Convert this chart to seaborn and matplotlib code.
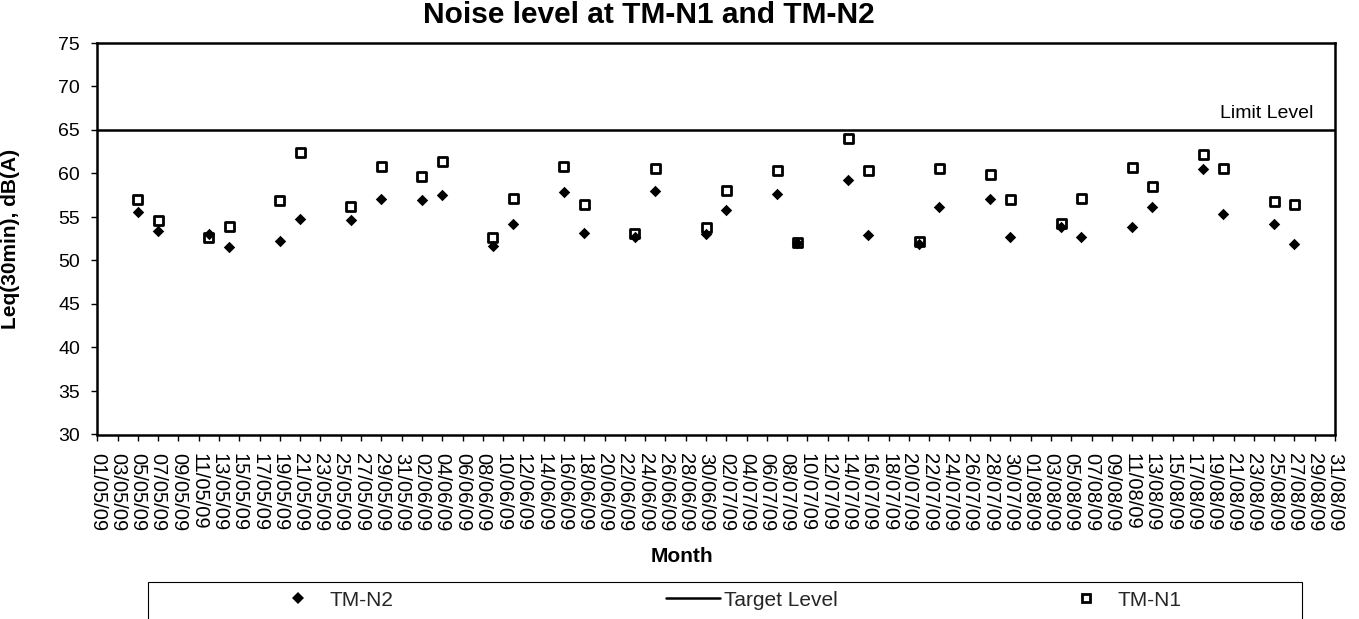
import numpy as np
import pandas as pd
import matplotlib
matplotlib.use('Agg')
import matplotlib.pyplot as plt
import matplotlib.dates as mdates
from matplotlib.lines import Line2D
from matplotlib.patches import Rectangle
import seaborn as sns

# ---------------- data ----------------
dates = ['05/05/09', '07/05/09', '12/05/09', '14/05/09', '19/05/09', '21/05/09',
         '26/05/09', '29/05/09', '02/06/09', '04/06/09', '09/06/09', '11/06/09',
         '16/06/09', '18/06/09', '23/06/09', '25/06/09', '30/06/09', '02/07/09',
         '07/07/09', '09/07/09', '14/07/09', '16/07/09', '21/07/09', '23/07/09',
         '28/07/09', '30/07/09', '04/08/09', '06/08/09', '11/08/09', '13/08/09',
         '18/08/09', '20/08/09', '25/08/09', '27/08/09']
tm_n1 = [57.0, 54.6, 52.7, 53.9, 56.9, 62.4, 56.2, 60.8, 59.6, 61.4, 52.7, 57.15,
         60.8, 56.4, 53.1, 60.6, 53.8, 58.1, 60.3, 52.1, 64.0, 60.4, 52.2, 60.6,
         59.9, 57.0, 54.3, 57.15, 60.7, 58.5, 62.2, 60.55, 56.8, 56.4]
tm_n2 = [55.6, 53.4, 53.1, 51.6, 52.2, 54.8, 54.6, 57.1, 57.0, 57.5, 51.7, 54.2,
         57.9, 53.2, 52.7, 58.0, 53.1, 55.8, 57.6, 52.0, 59.2, 52.9, 51.9, 56.2,
         57.1, 52.7, 53.9, 52.7, 53.9, 56.1, 60.55, 55.4, 54.2, 51.9]
target_level = 65
x_start, x_end = '2009-05-01', '2009-08-31'
tick_every_days = 2
y_ticks = [30, 35, 40, 45, 50, 55, 60, 65, 70, 75]
title = 'Noise level at TM-N1 and TM-N2'
x_label = 'Month'
y_label = 'Leq(30min), dB(A)'
limit_label = 'Limit Level'
legend_labels = ['TM-N2', 'Target Level', 'TM-N1']

# ---------------- style ----------------
sns.set_theme(style='ticks')
plt.rcParams['font.family'] = ['Liberation Sans', 'DejaVu Sans']

W, H = 1359, 619
fig = plt.figure(figsize=(W / 100, H / 100), dpi=100)
L, R, T, B = 97.3, 1335, 43, 434.5
ax = fig.add_axes([L / W, 1 - B / H, (R - L) / W, (B - T) / H])

df = pd.DataFrame({'date': pd.to_datetime(dates, format='%d/%m/%y'),
                   'TM-N1': tm_n1, 'TM-N2': tm_n2})

diamond_s = 34
square_s = 42
sns.scatterplot(data=df, x='date', y='TM-N2', marker='D', s=diamond_s, color='black',
                linewidth=0, ax=ax, zorder=3)
sns.scatterplot(data=df, x='date', y='TM-N1', marker='s', s=square_s, color='black',
                ax=ax, zorder=4)
coll = ax.collections[-1]
coll.set_facecolor('none')
coll.set_edgecolor('black')
coll.set_linewidth(2.0)

ax.axhline(target_level, color='black', lw=1.8, zorder=2)

# axes
tick_dates = pd.date_range(x_start, x_end, freq=f'{tick_every_days}D')
ax.set_xlim(pd.Timestamp(x_start), pd.Timestamp(x_end))
ax.set_xticks(mdates.date2num(tick_dates.to_pydatetime()))
ax.xaxis.set_major_formatter(mdates.DateFormatter('%d/%m/%y'))
ax.set_ylim(y_ticks[0], y_ticks[-1])
ax.set_yticks(y_ticks)

ax.tick_params(axis='x', labelrotation=-90, labelsize=14.5, length=4, width=1,
               pad=9, colors='black', direction='out')
ax.tick_params(axis='y', labelsize=14, length=4, width=1, pad=8.5,
               colors='black', direction='out')
for sp in ax.spines.values():
    sp.set_visible(True)
    sp.set_color('black')
    sp.set_linewidth(1.8)

ax.set_ylabel(y_label, fontsize=15, fontweight='bold', color='black')
ax.yaxis.set_label_coords((11 - L) / (R - L), 0.5)
ax.yaxis.label.set_va('center')

ax.set_xlabel(x_label, fontsize=15, fontweight='bold', color='black')
ax.xaxis.set_label_coords((682 - L) / (R - L), (B - 547) / (B - T))

ax.text((1313 - L) / (R - L), 66.4, limit_label, transform=ax.get_yaxis_transform(),
        ha='right', va='baseline', fontsize=14, color='black')

fig.suptitle(title, x=649 / W, y=1 - 23 / H, va='baseline', fontsize=21.5,
             fontweight='bold', color='black')

# legend
fig.add_artist(Rectangle((148 / W, 1 - 625 / H), (1302 - 148) / W, 43 / H,
                         transform=fig.transFigure, fill=False, edgecolor='black',
                         linewidth=0.8, clip_on=False))
handles = [
    Line2D([], [], marker='D', color='black', linestyle='none',
           markersize=np.sqrt(diamond_s), markeredgewidth=0),
    Line2D([], [], color='black', lw=1.8),
    Line2D([], [], marker='s', linestyle='none', markersize=np.sqrt(square_s) * 0.85,
           markerfacecolor='none', markeredgecolor='black', markeredgewidth=2.0),
]
starts = [271, 666, 1059]
for h, lab, xs in zip(handles, legend_labels, starts):
    fig.legend(handles=[h], labels=[lab], loc='center left',
               bbox_to_anchor=(xs / W, 1 - 600 / H), frameon=False,
               handlelength=2.6, handletextpad=0.2, borderpad=0, borderaxespad=0,
               fontsize=15)

fig.savefig('out.png', dpi=100)
